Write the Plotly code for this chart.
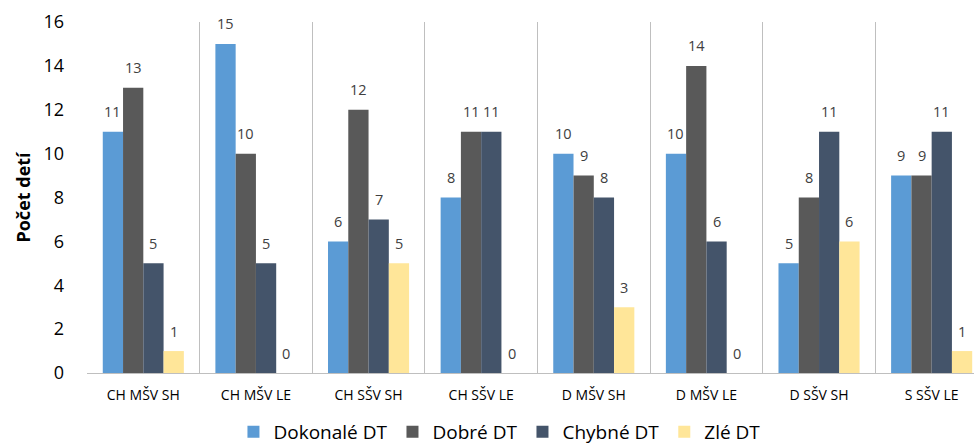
import plotly.graph_objects as go

categories = ["CH MŠV SH", "CH MŠV LE", "CH SŠV SH", "CH SŠV LE",
              "D MŠV SH", "D MŠV LE", "D SŠV SH", "S SŠV LE"]
series_names = ["Dokonalé DT", "Dobré DT", "Chybné DT", "Zlé DT"]
dokonale = [11, 15, 6, 8, 10, 10, 5, 9]
dobre = [13, 10, 12, 11, 9, 14, 8, 9]
chybne = [5, 5, 7, 11, 8, 6, 11, 11]
zle = [1, 0, 5, 0, 3, 0, 6, 1]
colors = ["#5B9BD5", "#595959", "#44546A", "#FFE699"]

values = [dokonale, dobre, chybne, zle]
FONT = "Open Sans"

fig = go.Figure()
for name, vals, col in zip(series_names, values, colors):
    fig.add_trace(go.Bar(x=categories, y=vals, name=name,
                         marker=dict(color=col, line=dict(width=0))))

bar_px = 20.3
for j, vals in enumerate(values):
    for c, v in zip(categories, vals):
        fig.add_annotation(x=c, y=v, text=str(v), showarrow=False,
                           xshift=(j - 1.5) * bar_px, yshift=20, yanchor="middle",
                           font=dict(family=FONT, size=14.5, color="#404040"))

fig.update_layout(
    width=974, height=446,
    margin=dict(l=87, r=0, t=22, b=73, autoexpand=False),
    paper_bgcolor="white", plot_bgcolor="white",
    barmode="group", bargap=0.28, bargroupgap=0,
    font=dict(family=FONT, color="#000000"),
    showlegend=True,
    legend=dict(orientation="h", x=0.465, xanchor="center", y=-0.168, yanchor="middle",
                font=dict(family=FONT, size=19, color="#000000"),
                itemwidth=30, traceorder="normal"),
)
fig.update_xaxes(
    range=[-0.5, 7.376],
    showgrid=True, gridcolor="#BFBFBF", gridwidth=1, tickson="boundaries",
    showline=True, linecolor="#BFBFBF", linewidth=1,
    ticks="", ticklabelstandoff=9,
    tickfont=dict(family=FONT, size=14, color="#000000"),
    automargin=False,
)
fig.update_yaxes(
    range=[0, 16], dtick=2, showgrid=False, zeroline=False, showline=False,
    ticks="", ticklabelstandoff=22,
    tickfont=dict(family=FONT, size=18, color="#000000"),
    title=dict(text="<b>Počet detí</b>", font=dict(family=FONT, size=18, color="#000000"), standoff=8),
    automargin=False,
)

fig.write_html("out.html")
